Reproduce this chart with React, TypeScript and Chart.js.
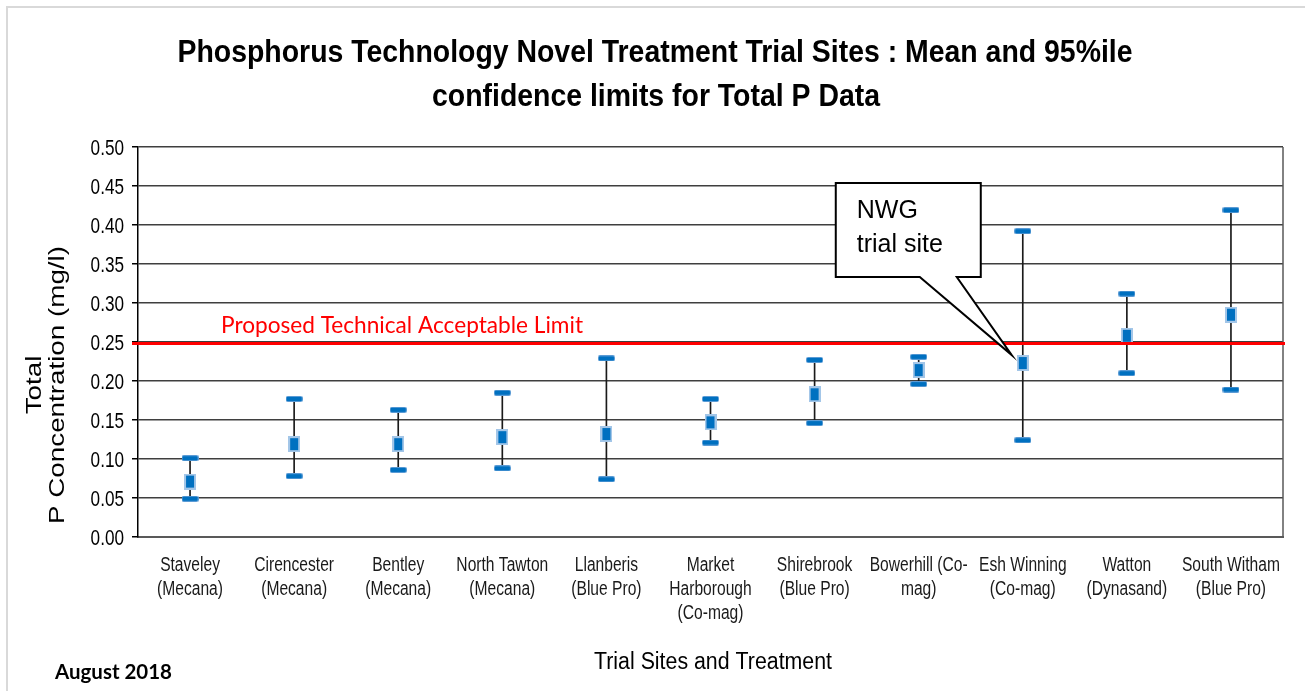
import React, { useEffect, useRef } from "react";
import { Chart, registerables } from "chart.js";
Chart.register(...registerables);

// ---- data ----
const categories: string[][] = [
  ["Staveley", "(Mecana)"],
  ["Cirencester", "(Mecana)"],
  ["Bentley", "(Mecana)"],
  ["North Tawton", "(Mecana)"],
  ["Llanberis", "(Blue Pro)"],
  ["Market", "Harborough", "(Co-mag)"],
  ["Shirebrook", "(Blue Pro)"],
  ["Bowerhill (Co-", "mag)"],
  ["Esh Winning", "(Co-mag)"],
  ["Watton", "(Dynasand)"],
  ["South Witham", "(Blue Pro)"],
];
const meanValues = [0.071, 0.119, 0.119, 0.128, 0.132, 0.147, 0.183, 0.214, 0.223, 0.258, 0.285];
const upperLimits = [0.101, 0.177, 0.163, 0.185, 0.229, 0.177, 0.227, 0.231, 0.392, 0.312, 0.419];
const lowerLimits = [0.049, 0.078, 0.086, 0.088, 0.074, 0.121, 0.146, 0.196, 0.124, 0.21, 0.189];
const yTickValues = [0, 0.05, 0.1, 0.15, 0.2, 0.25, 0.3, 0.35, 0.4, 0.45, 0.5];
const acceptableLimit = 0.248;
const calloutIndex = 8;

const titleLines = [
  "Phosphorus Technology Novel Treatment Trial Sites : Mean and 95%ile",
  "confidence limits for Total P Data",
];
const yTitleLines = ["Total", "P Concentration (mg/l)"];
const xTitle = "Trial Sites and Treatment";
const limitLabel = "Proposed Technical Acceptable Limit";
const calloutLines = ["NWG", "trial site"];
const footNote = "August 2018";

const SANS = '"Liberation Sans", Arial, sans-serif';
const BLUE = "#0070C0";
const NARROW_SCALE = 0.78;

function makeMeanMarker(): HTMLCanvasElement {
  const c = document.createElement("canvas");
  c.width = 12;
  c.height = 16;
  const g = c.getContext("2d")!;
  g.fillStyle = "#a3c6e8";
  g.fillRect(0, 0, 12, 16);
  g.fillStyle = BLUE;
  g.fillRect(2, 2, 8, 12);
  return c;
}

function makeCap(): HTMLCanvasElement {
  const c = document.createElement("canvas");
  c.width = 17;
  c.height = 6;
  const g = c.getContext("2d")!;
  g.fillStyle = "#5b9bd5";
  g.beginPath();
  (g as any).roundRect(0, 0, 17, 6, 2);
  g.fill();
  g.fillStyle = BLUE;
  g.fillRect(1, 1, 15, 4);
  return c;
}

function drawFitted(
  ctx: CanvasRenderingContext2D,
  text: string,
  x: number,
  y: number,
  targetW: number,
  font: string,
  color: string,
  align: CanvasTextAlign
) {
  ctx.save();
  ctx.font = font;
  ctx.fillStyle = color;
  ctx.textBaseline = "alphabetic";
  const w = ctx.measureText(text).width;
  ctx.translate(x, y);
  ctx.scale(targetW / w, 1);
  ctx.textAlign = align;
  ctx.fillText(text, 0, 0);
  ctx.restore();
}

function drawNarrow(
  ctx: CanvasRenderingContext2D,
  text: string,
  x: number,
  y: number,
  font: string,
  color: string,
  align: CanvasTextAlign
) {
  ctx.save();
  ctx.font = font;
  ctx.fillStyle = color;
  ctx.textBaseline = "alphabetic";
  ctx.textAlign = align;
  ctx.translate(x, y);
  ctx.scale(NARROW_SCALE, 1);
  ctx.fillText(text, 0, 0);
  ctx.restore();
}

const decorPlugin = {
  id: "decor",
  beforeDraw(chart: any) {
    const ctx: CanvasRenderingContext2D = chart.ctx;
    ctx.save();
    ctx.strokeStyle = "#d9d9d9";
    ctx.lineWidth = 2;
    ctx.beginPath();
    ctx.moveTo(7, chart.height);
    ctx.lineTo(7, 7);
    ctx.lineTo(chart.width, 7);
    ctx.stroke();
    ctx.restore();
  },
  afterDraw(chart: any) {
    const ctx: CanvasRenderingContext2D = chart.ctx;
    const area = chart.chartArea;
    const xs = chart.scales.x;
    const ys = chart.scales.y;

    // right border of plot
    ctx.save();
    ctx.strokeStyle = "#595959";
    ctx.lineWidth = 1.5;
    ctx.beginPath();
    ctx.moveTo(area.right, area.top);
    ctx.lineTo(area.right, area.bottom);
    ctx.stroke();
    ctx.restore();

    // y tick labels (narrow)
    ys.ticks.forEach((t: any) => {
      const py = ys.getPixelForValue(t.value);
      drawNarrow(ctx, Number(t.value).toFixed(2), area.left - 14, py + 8, "22px " + SANS, "#000", "right");
    });

    // x tick labels (narrow, multi-line)
    const labels = xs.getLabels();
    labels.forEach((lab: any, i: number) => {
      const px = xs.getPixelForValue(i);
      const lines: string[] = Array.isArray(lab) ? lab : [String(lab)];
      lines.forEach((ln, j) => {
        drawNarrow(ctx, ln, px, area.bottom + 34 + j * 24, "20px " + SANS, "#1a1a1a", "center");
      });
    });

    // limit line
    const ly = ys.getPixelForValue(acceptableLimit);
    ctx.save();
    ctx.strokeStyle = "#ff0000";
    ctx.lineWidth = 3;
    ctx.beginPath();
    ctx.moveTo(area.left - 6, ly);
    ctx.lineTo(area.right + 2, ly);
    ctx.stroke();
    ctx.restore();

    drawFitted(ctx, limitLabel, 221, ly - 11, 362, "24px Lato, sans-serif", "#ff0000", "left");

    // callout
    const tipX = xs.getPixelForValue(calloutIndex) - 11;
    const tipY = ys.getPixelForValue(meanValues[calloutIndex]) - 8;
    const L = tipX - 176, T = tipY - 172, R = tipX - 31, B = tipY - 78;
    ctx.save();
    ctx.fillStyle = "#ffffff";
    ctx.strokeStyle = "#000000";
    ctx.lineWidth = 2;
    ctx.lineJoin = "miter";
    ctx.beginPath();
    ctx.moveTo(L, T);
    ctx.lineTo(R, T);
    ctx.lineTo(R, B);
    ctx.lineTo(tipX - 55, B);
    ctx.lineTo(tipX, tipY);
    ctx.lineTo(tipX - 92, B);
    ctx.lineTo(L, B);
    ctx.closePath();
    ctx.fill();
    ctx.stroke();
    ctx.fillStyle = "#000";
    ctx.font = "25px " + SANS;
    ctx.textAlign = "left";
    ctx.textBaseline = "alphabetic";
    ctx.fillText(calloutLines[0], L + 21, T + 35);
    ctx.fillText(calloutLines[1], L + 21, T + 69);
    ctx.restore();

    // titles
    drawFitted(ctx, titleLines[0], 655, 62, 955, "bold 32px " + SANS, "#000", "center");
    drawFitted(ctx, titleLines[1], 656, 106, 448, "bold 32px " + SANS, "#000", "center");

    // y title (rotated)
    ctx.save();
    ctx.translate(46, 385);
    ctx.rotate(-Math.PI / 2);
    ctx.font = "22px " + SANS;
    const w2 = ctx.measureText(yTitleLines[1]).width;
    ctx.scale(278 / w2, 1);
    ctx.fillStyle = "#000";
    ctx.textAlign = "center";
    ctx.textBaseline = "middle";
    ctx.fillText(yTitleLines[0], 0, -11);
    ctx.fillText(yTitleLines[1], 0, 12);
    ctx.restore();

    // x title
    drawFitted(ctx, xTitle, 713, 669, 238, "23px " + SANS, "#000", "center");

    // footnote
    drawFitted(ctx, footNote, 55, 679, 117, "bold 21px Lato, sans-serif", "#000", "left");
  },
};

export default function App() {
  const ref = useRef<HTMLCanvasElement>(null);
  useEffect(() => {
    if (!ref.current) return;
    const meanMarker = makeMeanMarker();
    const cap = makeCap();
    const chart = new Chart(ref.current, {
      type: "bar",
      data: {
        labels: categories as any,
        datasets: [
          {
            type: "line",
            label: "Mean",
            data: meanValues,
            showLine: false,
            pointStyle: meanMarker as any,
            pointRadius: 8,
            order: 1,
          } as any,
          {
            type: "line",
            label: "Upper",
            data: upperLimits,
            showLine: false,
            pointStyle: cap as any,
            pointRadius: 8,
            order: 2,
          } as any,
          {
            type: "line",
            label: "Lower",
            data: lowerLimits,
            showLine: false,
            pointStyle: cap as any,
            pointRadius: 8,
            order: 2,
          } as any,
          {
            type: "bar",
            label: "Range",
            data: lowerLimits.map((l, i) => [l, upperLimits[i]]),
            backgroundColor: "#1a1a1a",
            borderWidth: 0,
            barThickness: 1,
            order: 3,
          } as any,
        ],
      },
      options: {
        responsive: false,
        animation: false,
        events: [],
        layout: { padding: { top: 147, right: 22, bottom: 0, left: 0 } },
        plugins: {
          legend: { display: false },
          tooltip: { enabled: false },
          title: { display: false },
        },
        scales: {
          x: {
            offset: true,
            grid: { display: false, drawTicks: false, tickLength: 0 },
            border: { display: true, color: "#595959", width: 2 },
            ticks: { display: false, autoSkip: false },
            afterFit: (s: any) => {
              s.height = 154;
            },
          },
          y: {
            min: 0,
            max: 0.5,
            grid: { color: "#3f3f3f", lineWidth: 1.5, tickLength: 6, tickColor: "#000" },
            border: { display: true, color: "#000", width: 1.5 },
            afterBuildTicks: (s: any) => {
              s.ticks = yTickValues.map((v) => ({ value: v }));
            },
            ticks: { display: false },
            afterFit: (s: any) => {
              s.width = 138;
            },
          },
        },
      },
      plugins: [decorPlugin],
    });
    return () => chart.destroy();
  }, []);
  return (
    <div style={{ position: "absolute", left: 0, top: 0, width: 1305, height: 691, background: "#fff" }}>
      <canvas ref={ref} width={1305} height={691} />
    </div>
  );
}
